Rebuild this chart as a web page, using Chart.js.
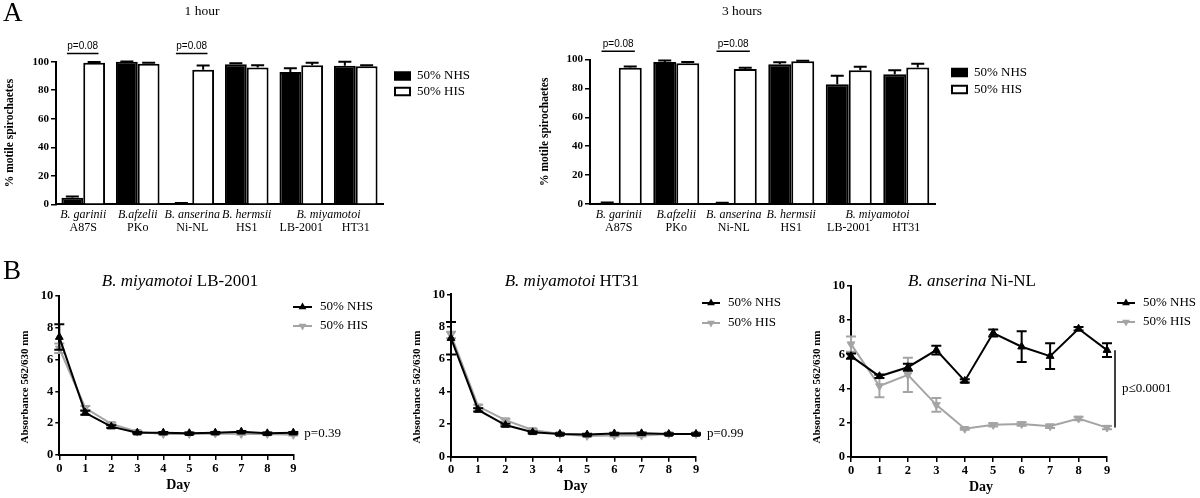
<!DOCTYPE html>
<html><head><meta charset="utf-8">
<script src="https://cdn.jsdelivr.net/npm/chart.js@4/dist/chart.umd.min.js"></script>
<style>
html,body{margin:0;padding:0;background:#fff;}
#wrap{position:relative;width:1200px;height:498px;overflow:hidden;background:#fff;}
canvas{position:absolute;left:0;top:0;}
</style></head><body><div id="wrap">
<canvas id="a1" width="1200" height="498"></canvas>
<canvas id="a2" width="1200" height="498"></canvas>
<canvas id="b1" width="1200" height="498"></canvas>
<canvas id="b2" width="1200" height="498"></canvas>
<canvas id="b3" width="1200" height="498"></canvas>
</div>
<script>
// ---------- DATA ----------
const species = ['B. garinii','B.afzelii','B. anserina','B. hermsii','B. miyamotoi','B. miyamotoi'];
const strains = ['A87S','PKo','Ni-NL','HS1','LB-2001','HT31'];
const motileTicks = [0,20,40,60,80,100];
const seriesNames = ['50% NHS','50% HIS'];

const nhs1h    = [4.6, 100, 0.7, 98.2, 92.8, 97.2];
const nhs1hErr = [0.8, 0.2, 0.2, 0.7, 2.6, 2.8];
const his1h    = [99.3, 98.5, 94.4, 96.0, 97.5, 96.8];
const his1hErr = [0.5, 0.8, 3.0, 1.5, 1.8, 0.7];

const nhs3h    = [0.9, 98.3, 0.7, 96.7, 82.8, 89.8];
const nhs3hErr = [0.2, 1.0, 0.2, 1.4, 6.0, 2.8];
const his3h    = [94.3, 97.4, 93.4, 98.8, 92.6, 94.4];
const his3hErr = [0.8, 0.9, 0.9, 0.3, 2.4, 2.6];

const pGroups = [0, 2];
const pText = 'p=0.08';

const days = ['0','1','2','3','4','5','6','7','8','9'];
const absTicks = [0,2,4,6,8,10];

const nhsLB    = [7.4, 2.65, 1.78, 1.4, 1.4, 1.37, 1.4, 1.46, 1.36, 1.4];
const nhsLBErr = [0.8, 0.12, 0.08, 0.05, 0.05, 0.05, 0.05, 0.05, 0.05, 0.05];
const hisLB    = [6.7, 2.95, 1.95, 1.46, 1.32, 1.32, 1.35, 1.32, 1.32, 1.27];
const hisLBErr = [0.3, 0.12, 0.08, 0.05, 0.05, 0.05, 0.05, 0.05, 0.05, 0.05];

const nhsHT    = [7.3, 2.88, 1.95, 1.5, 1.4, 1.36, 1.43, 1.44, 1.4, 1.4];
const nhsHTErr = [1.0, 0.1, 0.08, 0.05, 0.05, 0.05, 0.05, 0.05, 0.05, 0.05];
const hisHT    = [7.5, 3.1, 2.25, 1.65, 1.4, 1.28, 1.3, 1.3, 1.4, 1.4];
const hisHTErr = [0.2, 0.1, 0.08, 0.05, 0.05, 0.05, 0.05, 0.05, 0.05, 0.05];

const nhsNi    = [5.9, 4.72, 5.25, 6.25, 4.45, 7.25, 6.45, 5.9, 7.5, 6.25];
const nhsNiErr = [0.15, 0.1, 0.2, 0.25, 0.1, 0.2, 0.9, 0.75, 0.1, 0.4];
const hisNi    = [6.6, 4.15, 4.8, 3.05, 1.65, 1.88, 1.93, 1.8, 2.25, 1.72];
const hisNiErr = [0.45, 0.65, 1.0, 0.4, 0.05, 0.1, 0.1, 0.1, 0.1, 0.1];

const pLB = 'p=0.39', pHT = 'p=0.99', pNi = 'p\u22640.0001';

// ---------- STYLE / HELPERS ----------
const SERIF = '"Liberation Serif", "Times New Roman", serif';
const SANS = '"Liberation Sans", Arial, sans-serif';
const GREY = '#a4a4a4';
const W = 1200, H = 498;

function T(ctx, s, x, y, font, align, color) {
  ctx.save(); ctx.font = font; ctx.fillStyle = color || '#000';
  ctx.textAlign = align || 'center'; ctx.textBaseline = 'middle';
  ctx.fillText(s, x, y); ctx.restore();
}
function TV(ctx, s, x, y, font) {
  ctx.save(); ctx.translate(x, y); ctx.rotate(-Math.PI / 2);
  T(ctx, s, 0, 0, font); ctx.restore();
}
function mixed(ctx, parts, cx, y) {
  ctx.save();
  let w = 0;
  parts.forEach(p => { ctx.font = p[1]; w += ctx.measureText(p[0]).width; });
  let x = cx - w / 2;
  ctx.fillStyle = '#000'; ctx.textAlign = 'left'; ctx.textBaseline = 'middle';
  parts.forEach(p => { ctx.font = p[1]; ctx.fillText(p[0], x, y); x += ctx.measureText(p[0]).width; });
  ctx.restore();
}
function tri(ctx, x, y, r, down, color) {
  const s = down ? -1 : 1;
  ctx.save(); ctx.beginPath();
  ctx.moveTo(x, y - s * r);
  ctx.lineTo(x + r * 0.866, y + s * r * 0.5);
  ctx.lineTo(x - r * 0.866, y + s * r * 0.5);
  ctx.closePath(); ctx.fillStyle = color; ctx.fill(); ctx.restore();
}
function line(ctx, x1, y1, x2, y2, lw, color) {
  ctx.save(); ctx.beginPath(); ctx.moveTo(x1, y1); ctx.lineTo(x2, y2);
  ctx.lineWidth = lw; ctx.strokeStyle = color || '#000'; ctx.stroke(); ctx.restore();
}

const errCfg = {};
const decorators = {};

const errPlugin = {
  id: 'errbars',
  beforeDatasetDraw(chart, args) {
    const cfg = errCfg[chart.canvas.id]; if (!cfg) return;
    const ds = chart.data.datasets[args.index]; if (!ds.errs) return;
    const meta = chart.getDatasetMeta(args.index);
    const ys = chart.scales.y, ctx = chart.ctx;
    ctx.save(); ctx.strokeStyle = ds.errColor || '#000'; ctx.lineWidth = cfg.lw;
    meta.data.forEach((el, i) => {
      const e = ds.errs[i]; if (!e) return;
      const v = ds.data[i];
      const yt = ys.getPixelForValue(v + e);
      const yb = cfg.both ? ys.getPixelForValue(v - e) : el.y;
      ctx.beginPath();
      ctx.moveTo(el.x, yb); ctx.lineTo(el.x, yt);
      ctx.moveTo(el.x - cfg.cap, yt); ctx.lineTo(el.x + cfg.cap, yt);
      if (cfg.both) { ctx.moveTo(el.x - cfg.cap, yb); ctx.lineTo(el.x + cfg.cap, yb); }
      ctx.stroke();
    });
    ctx.restore();
  }
};
const decoPlugin = {
  id: 'deco',
  afterDraw(chart) { const f = decorators[chart.canvas.id]; if (f) f(chart, chart.ctx); }
};

function layoutFor(area, wy, hx) {
  return { padding: { left: area.l - wy, right: W - area.r, top: area.t, bottom: H - area.b - hx } };
}

// ---------- BAR CHARTS (panel A) ----------
function makeBar(id, area, nhs, nhsE, his, hisE) {
  errCfg[id] = { lw: 2, cap: 6.5, both: false };
  return new Chart(document.getElementById(id), {
    type: 'bar',
    data: {
      labels: strains,
      datasets: [
        { label: seriesNames[0], data: nhs, errs: nhsE, errColor: '#000', backgroundColor: '#000', borderColor: '#000', borderWidth: 2, categoryPercentage: 0.8, barPercentage: 1, clip: false },
        { label: seriesNames[1], data: his, errs: hisE, errColor: '#000', backgroundColor: '#fff', borderColor: '#000', borderWidth: 2, categoryPercentage: 0.8, barPercentage: 1, clip: false }
      ]
    },
    options: {
      responsive: false, animation: false, events: [],
      layout: layoutFor(area, 40, 10),
      plugins: { legend: { display: false }, tooltip: { enabled: false }, title: { display: false } },
      scales: {
        x: {
          ticks: { display: false },
          grid: { display: false },
          border: { color: '#000', width: 2 },
          afterFit(s) { s.height = 10; }
        },
        y: {
          min: motileTicks[0], max: motileTicks[motileTicks.length - 1],
          ticks: { stepSize: motileTicks[1] - motileTicks[0], color: '#000', padding: 2, font: { family: SERIF, size: 11, weight: 'bold' } },
          grid: { drawOnChartArea: false, color: '#000', lineWidth: 1.5, tickLength: 5 },
          border: { color: '#000', width: 2 },
          afterFit(s) { s.width = 40; }
        }
      }
    },
    plugins: [errPlugin, decoPlugin]
  });
}

function barDeco(opts) {
  return function (chart, ctx) {
    const xs = chart.scales.x, ys = chart.scales.y, ca = chart.chartArea;
    let i = 0;
    while (i < species.length) {
      let j = i; while (j + 1 < species.length && species[j + 1] === species[i]) j++;
      const cx = (xs.getPixelForValue(i) + xs.getPixelForValue(j)) / 2;
      T(ctx, species[i], cx, ca.bottom + 11, 'italic 12px ' + SERIF);
      i = j + 1;
    }
    strains.forEach((s, k) => T(ctx, s, xs.getPixelForValue(k), ca.bottom + 24, '12px ' + SERIF));
    const w = xs.getPixelForValue(1) - xs.getPixelForValue(0);
    const py = ys.getPixelForValue(105.7);
    pGroups.forEach(g => {
      const c = xs.getPixelForValue(g);
      line(ctx, c - 0.3 * w, py, c + 0.28 * w, py, 1.5);
      T(ctx, pText, c - 0.01 * w, py - 7.5, '10px ' + SANS);
    });
    TV(ctx, '% motile spirochaetes', ca.left - opts.ytOff, (ca.top + ca.bottom) / 2, 'bold 11.5px ' + SERIF);
    T(ctx, opts.title, opts.titleX, 11, '13.5px ' + SERIF);
    const lx = opts.legX;
    ctx.save();
    ctx.fillStyle = '#000'; ctx.fillRect(lx, opts.legY[0] - 4.75, 17, 9.5);
    ctx.fillStyle = '#fff'; ctx.fillRect(lx + 1, opts.legY[1] - 3.75, 15, 7.5);
    ctx.strokeStyle = '#000'; ctx.lineWidth = 2; ctx.strokeRect(lx + 1, opts.legY[1] - 3.75, 15, 7.5);
    ctx.restore();
    chart.data.datasets.forEach((d, k) => T(ctx, d.label, lx + 23, opts.legY[k], '13px ' + SERIF, 'left'));
    if (opts.letter) T(ctx, opts.letter, 3, 14, '27px ' + SERIF, 'left');
  };
}

const areaA1 = { l: 56, r: 383, t: 61.7, b: 204.3 };
const areaA2 = { l: 590, r: 935, t: 59.5, b: 204 };
decorators.a1 = barDeco({ title: '1 hour', titleX: 202, legX: 394, legY: [76, 91.5], ytOff: 46, letter: 'A' });
decorators.a2 = barDeco({ title: '3 hours', titleX: 742, legX: 951, legY: [72.5, 89.5], ytOff: 45 });
makeBar('a1', areaA1, nhs1h, nhs1hErr, his1h, his1hErr);
makeBar('a2', areaA2, nhs3h, nhs3hErr, his3h, his3hErr);

// ---------- LINE CHARTS (panel B) ----------
function makeLine(id, area, nhs, nhsE, his, hisE) {
  errCfg[id] = { lw: 2, cap: 5, both: true };
  const common = { borderWidth: 2, pointStyle: 'triangle', pointRadius: 4.5, pointBorderWidth: 1, tension: 0, clip: false, fill: false };
  return new Chart(document.getElementById(id), {
    type: 'line',
    data: {
      labels: days,
      datasets: [
        Object.assign({ label: seriesNames[0], data: nhs, errs: nhsE, errColor: '#000', borderColor: '#000', backgroundColor: '#000', pointBackgroundColor: '#000', pointBorderColor: '#000' }, common),
        Object.assign({ label: seriesNames[1], data: his, errs: hisE, errColor: GREY, borderColor: GREY, backgroundColor: GREY, pointBackgroundColor: GREY, pointBorderColor: GREY, pointRotation: 180 }, common)
      ]
    },
    options: {
      responsive: false, animation: false, events: [],
      layout: layoutFor(area, 40, 20),
      plugins: { legend: { display: false }, tooltip: { enabled: false }, title: { display: false } },
      scales: {
        x: {
          offset: false,
          ticks: { color: '#000', padding: 1, autoSkip: false, maxRotation: 0, font: { family: SERIF, size: 12.5, weight: 'bold' } },
          grid: { drawOnChartArea: false, color: '#000', lineWidth: 1.5, tickLength: 5, offset: false },
          border: { color: '#000', width: 2 },
          afterFit(s) { s.height = 20; }
        },
        y: {
          min: absTicks[0], max: absTicks[absTicks.length - 1],
          ticks: { stepSize: absTicks[1] - absTicks[0], color: '#000', padding: 2, font: { family: SERIF, size: 12.5, weight: 'bold' } },
          grid: { drawOnChartArea: false, color: '#000', lineWidth: 1.5, tickLength: 4 },
          border: { color: '#000', width: 2 },
          afterFit(s) { s.width = 40; }
        }
      }
    },
    plugins: [errPlugin, decoPlugin]
  });
}

function lineDeco(opts) {
  return function (chart, ctx) {
    const xs = chart.scales.x, ys = chart.scales.y, ca = chart.chartArea;
    mixed(ctx, [[opts.italic, 'italic 17px ' + SERIF], [opts.plain, '17px ' + SERIF]], opts.titleX, 282);
    TV(ctx, 'Absorbance 562/630 nm', ca.left - 34, 387, 'bold 11px ' + SERIF);
    T(ctx, 'Day', (ca.left + ca.right) / 2 + 2, ca.bottom + 30, 'bold 14px ' + SERIF);
    const cols = ['#000', GREY];
    chart.data.datasets.forEach((d, k) => {
      const y = opts.legY[k];
      line(ctx, opts.legX[0], y, opts.legX[1], y, 2, cols[k]);
      tri(ctx, (opts.legX[0] + opts.legX[1]) / 2, y, 4.5, k === 1, cols[k]);
      T(ctx, d.label, opts.legX[1] + 8, y, '13px ' + SERIF, 'left');
    });
    const ds = chart.data.datasets;
    const last = days.length - 1;
    const xe = xs.getPixelForValue(last);
    if (opts.sigBar) {
      const y1 = ys.getPixelForValue(ds[0].data[last]);
      const y2 = ys.getPixelForValue(ds[1].data[last]);
      line(ctx, xe + 8, y1, xe + 8, y2, 1.5);
      T(ctx, opts.p, xe + 15, (y1 + y2) / 2, '13px ' + SERIF, 'left');
    } else {
      const ym = ys.getPixelForValue((ds[0].data[last] + ds[1].data[last]) / 2);
      T(ctx, opts.p, xe + 11, ym, '13px ' + SERIF, 'left');
    }
    if (opts.letter) T(ctx, opts.letter, 3, 272, '27px ' + SERIF, 'left');
  };
}

const areaB1 = { l: 59.3, r: 293.3, t: 295.7, b: 455 };
const areaB2 = { l: 451, r: 696, t: 294.3, b: 456.7 };
const areaB3 = { l: 851, r: 1107, t: 286, b: 457 };
decorators.b1 = lineDeco({ italic: 'B. miyamotoi ', plain: 'LB-2001', titleX: 180, legX: [293, 312], legY: [307, 326], p: pLB, letter: 'B' });
decorators.b2 = lineDeco({ italic: 'B. miyamotoi ', plain: 'HT31', titleX: 572, legX: [702, 720], legY: [303, 323], p: pHT });
decorators.b3 = lineDeco({ italic: 'B. anserina ', plain: 'Ni-NL', titleX: 972, legX: [1117, 1135], legY: [303, 322], p: pNi, sigBar: true });
makeLine('b1', areaB1, nhsLB, nhsLBErr, hisLB, hisLBErr);
makeLine('b2', areaB2, nhsHT, nhsHTErr, hisHT, hisHTErr);
makeLine('b3', areaB3, nhsNi, nhsNiErr, hisNi, hisNiErr);
</script>
</body></html>
